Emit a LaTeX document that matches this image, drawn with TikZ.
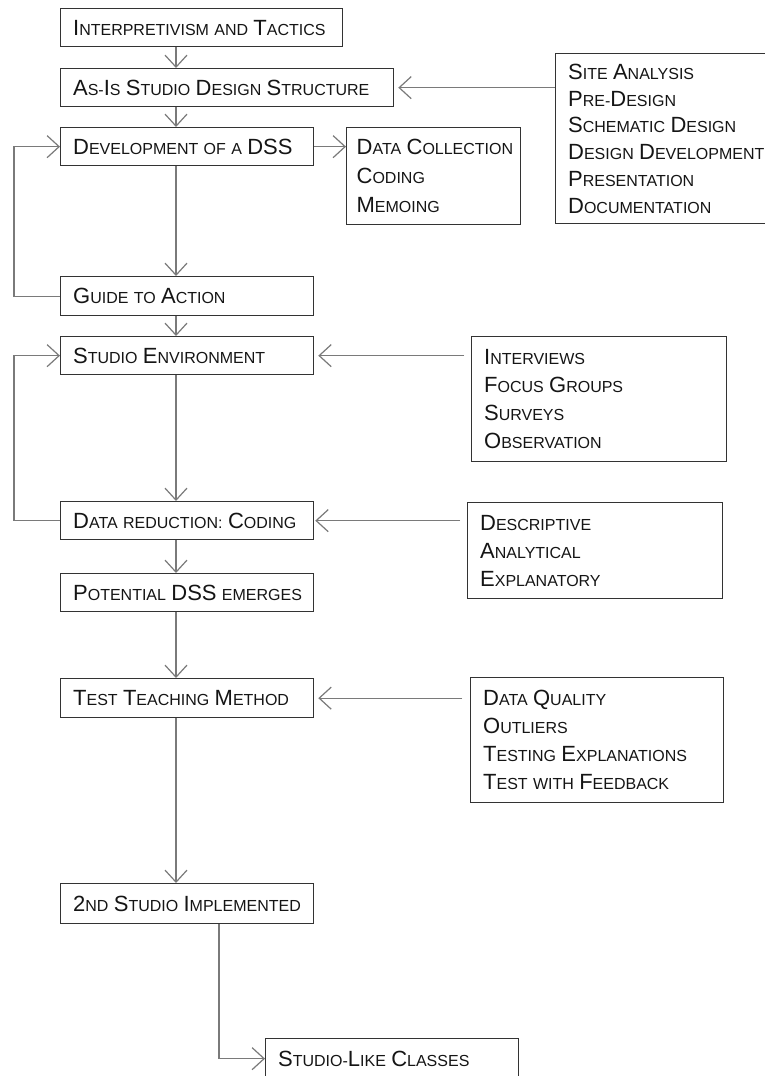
\documentclass[tikz,border=0pt]{standalone}
\usepackage{fontspec}
\setmainfont{Liberation Sans}
\usetikzlibrary{arrows.meta}
\definecolor{boxc}{HTML}{333333}
\definecolor{arrc}{HTML}{7A7A7A}
\definecolor{txtc}{HTML}{151515}
% large initial capital for the hand-made small-caps labels
\newcommand\capl[1]{{\fontsize{22}{22}\selectfont #1}}
\begin{document}
\begin{tikzpicture}[x=1pt,y=-1pt,
  box/.style={draw=boxc, line width=1.3pt, rectangle, anchor=north west,
    inner xsep=12.5pt, inner ysep=0pt, align=left, text=txtc,
    font=\fontsize{16}{28}\selectfont},
  arr/.style={draw=arrc, line width=1.2pt, -{Straight Barb[length=12pt,width=22pt]}},
  link/.style={draw=arrc, line width=1.2pt}]

\fill[white] (0,0) rectangle (764,1076);
\useasboundingbox (0,0) rectangle (764,1076);

% main column
\node[box, minimum width=282pt, minimum height=38pt, text width=257pt] (b1) at (60,8)
  {\capl{I}NTERPRETIVISM~AND~\capl{T}ACTICS};
\node[box, minimum width=333pt, minimum height=38pt, text width=308pt] (b2) at (60,68)
  {\capl{A}S-\capl{I}S~\capl{S}TUDIO~\capl{D}ESIGN~\capl{S}TRUCTURE};
\node[box, minimum width=253pt, minimum height=38pt, text width=228pt] (b3) at (60,127)
  {\capl{D}EVELOPMENT~OF~A~\capl{DSS}};
\node[box, minimum width=253pt, minimum height=39pt, text width=228pt] (b4) at (60,276)
  {\capl{G}UIDE~TO~\capl{A}CTION};
\node[box, minimum width=253pt, minimum height=38pt, text width=228pt] (b5) at (60,336)
  {\capl{S}TUDIO~\capl{E}NVIRONMENT};
\node[box, minimum width=253pt, minimum height=38pt, text width=228pt] (b6) at (60,501)
  {\capl{D}ATA~REDUCTION:~\capl{C}ODING};
\node[box, minimum width=253pt, minimum height=38pt, text width=228pt] (b7) at (60,573)
  {\capl{P}OTENTIAL~\capl{DSS}~EMERGES};
\node[box, minimum width=253pt, minimum height=39pt, text width=228pt] (b8) at (60,678)
  {\capl{T}EST~\capl{T}EACHING~\capl{M}ETHOD};
\node[box, minimum width=253pt, minimum height=40pt, text width=228pt] (b9) at (60,883)
  {\capl{2}ND~\capl{S}TUDIO~\capl{I}MPLEMENTED};
\node[box, minimum width=253pt, minimum height=40pt, text width=228pt] (b10) at (265,1038)
  {\capl{S}TUDIO-\capl{L}IKE~\capl{C}LASSES};

% side lists
\node[box, minimum width=235pt, minimum height=170pt, text width=210pt,
  font=\fontsize{16}{26.7}\selectfont] (s1) at (555,53)
  {\capl{S}ITE~\capl{A}NALYSIS\\
   \capl{P}RE-\capl{D}ESIGN\\
   \capl{S}CHEMATIC~\capl{D}ESIGN\\
   \capl{D}ESIGN~\capl{D}EVELOPMENT\\
   \capl{P}RESENTATION\\
   \capl{D}OCUMENTATION};
\node[box, minimum width=174pt, minimum height=97pt, inner xsep=10pt, text width=154pt,
  font=\fontsize{16}{29}\selectfont] (s2) at (346,127)
  {\capl{D}ATA~\capl{C}OLLECTION\\
   \capl{C}ODING\\
   \capl{M}EMOING};
\node[box, minimum width=255pt, minimum height=125pt, text width=230pt] (s3) at (471,336)
  {\capl{I}NTERVIEWS\\
   \capl{F}OCUS~\capl{G}ROUPS\\
   \capl{S}URVEYS\\
   \capl{O}BSERVATION};
\node[box, minimum width=255pt, minimum height=96pt, text width=230pt] (s4) at (467,502)
  {\capl{D}ESCRIPTIVE\\
   \capl{A}NALYTICAL\\
   \capl{E}XPLANATORY};
\node[box, minimum width=253pt, minimum height=125pt, text width=228pt] (s5) at (470,677)
  {\capl{D}ATA~\capl{Q}UALITY\\
   \capl{O}UTLIERS\\
   \capl{T}ESTING~\capl{E}XPLANATIONS\\
   \capl{T}EST~WITH~\capl{F}EEDBACK};

% guide columns for the connectors
\coordinate (col) at (176,0);
\coordinate (lx) at (14,0);
\coordinate (jx) at (219,0);

% downward flow
\draw[arr] (b1.south -| col) -- (b2.north -| col);
\draw[arr] (b2.south -| col) -- (b3.north -| col);
\draw[arr] (b3.south -| col) -- (b4.north -| col);
\draw[arr] (b4.south -| col) -- (b5.north -| col);
\draw[arr] (b5.south -| col) -- (b6.north -| col);
\draw[arr] (b6.south -| col) -- (b7.north -| col);
\draw[arr] (b7.south -| col) -- (b8.north -| col);
\draw[arr] (b8.south -| col) -- (b9.north -| col);
\draw[arr] (b9.south -| jx) |- (b10.west);

% feedback loops on the left
\draw[arr] (b4.west) -- (b4.west -| lx) -- (b3.west -| lx) -- (b3.west);
\draw[arr] (b6.west) -- (b6.west -| lx) -- (b5.west -| lx) -- (b5.west);

% side inputs and outputs
\draw[arr, shorten >=4pt] (s1.west |- b2.east) -- (b2.east);
\draw[arr] (b3.east) -- (s2.west |- b3.east);
\draw[arr, shorten <=7pt, shorten >=4pt] (s3.west |- b5.east) -- (b5.east);
\draw[arr, shorten <=7pt, shorten >=1pt] (s4.west |- b6.east) -- (b6.east);
\draw[arr, shorten <=8pt, shorten >=4pt] (s5.west |- b8.east) -- (b8.east);

\end{tikzpicture}
\end{document}
